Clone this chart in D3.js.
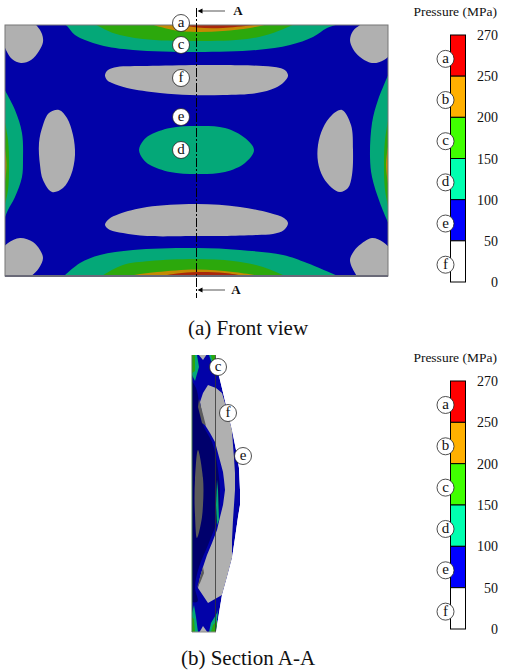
<!DOCTYPE html>
<html>
<head>
<meta charset="utf-8">
<script src="https://cdn.jsdelivr.net/npm/d3@7"></script>
<style>
html,body{margin:0;padding:0;background:#fff;}
text{font-family:"Liberation Serif",serif;fill:#111;}
.red{fill:#a8280c;} .orange{fill:#c48a04;} .green{fill:#2ca80c;} .teal{fill:#04a878;}
.blue{fill:#0202a8;} .navy{fill:#00006c;} .gray{fill:#b0b0b0;} .dark{fill:#5c5c5c;}
</style>
</head>
<body>
<div id="chart"></div>
<script>
// legend
var tickLabels = ["270","250","200","150","100","50","0"];
var legendLetters = ["a","b","c","d","e","f"];
var legendColors = ["#ff0000","#ffb000","#40ff00","#00ffb0","#0000ff","#ffffff"];

// front view contours, plate units (383 x 251)
var cornerTL = [[-6,-6],[24,-6],[32,1],[37,9],[38,17],[34,26],[26,35],[16,38],[7,34],[1,25],[-4,10]];
var cornerTR = [[345,15],[348,6],[355,0],[365,-6],[390,-6],[390,22],[379,35],[367,38],[355,32],[348,24]];
var cornerBL = [[-5,228],[3,218],[15,213],[28,217],[35,225],[38,233],[34,243],[25,252],[15,258],[-6,258]];
var cornerBR = [[345,235],[349,226],[356,219],[367,213],[378,217],[386,225],[392,240],[390,258],[358,258],[350,248]];
// bands along the edges: open boundary, closed straight outside the plate
var topTeal = [[57,-2],[62,1],[70,10],[95,20],[128,25],[192,27],[252,25],[285,20],[308,12],[322,3],[338,-2]];
var topGreen = [[88,-2],[108,8],[138,14],[192,16],[242,14],[268,8],[292,-2]];
var topOrange = [[142,-2],[168,5],[192,7],[218,6],[245,3],[268,-2]];
var topRed = [[168,-2],[192,2.5],[218,3],[265,-2]];
var bottomTeal = [[58,252],[75,238],[95,230],[128,225],[192,223],[235,225],[278,230],[302,238],[335,252]];
var bottomGreen = [[95,252],[118,240],[145,236],[192,234],[228,236],[258,242],[282,252]];
var bottomOrange = [[117,252],[135,249],[152,247],[192,244.5],[228,247],[263,252]];
var bottomRed = [[152,252],[172,248.5],[192,247],[220,248],[245,252]];
var leftTeal = [[-2,62],[10,85],[17,108],[18,135],[17,152],[10,172],[3,185],[-2,197]];
var leftGreen = [[-2,88],[3,115],[4,140],[3,165],[-2,187]];
var leftOrange = [[-2,110],[1.5,140],[-2,170]];
var rightTeal = [[385,46],[373,75],[367,98],[365,132],[367,152],[375,178],[385,202]];
var rightGreen = [[385,85],[380,115],[379,140],[380,165],[385,190]];
var rightOrange = [[385,110],[381,140],[385,170]];
// closed blobs
var topGray = [[100,50],[103,45],[112,42],[142,41],[192,40],[218,40],[258,41],[275,43],[281,46],[283,51],[279,57],[270,63],[252,68],[218,70],[185,70],[155,68],[122,63],[107,58],[102,55]];
var bottomGray = [[100,200],[104,194],[114,189],[142,182],[192,179],[235,182],[265,188],[279,193],[283,198],[279,205],[268,209],[252,210],[218,211],[192,211],[142,211],[118,208],[105,205]];
var leftGray = [[54,85],[44,88],[38,100],[34,118],[35,140],[38,155],[47,167],[58,163],[66,150],[70,130],[68,110],[62,93]];
var rightGray = [[337,85],[327,90],[318,103],[313,120],[313,137],[318,152],[327,163],[335,167],[343,163],[347,150],[348,125],[346,100]];
var centerTeal = [[134,125],[138,116],[145,110],[165,103],[192,101],[220,103],[240,113],[249,125],[240,138],[220,147],[192,149],[165,147],[145,140],[138,134]];

// section view contours, section units (width 23 at the flange, height 277)
var sectionBody = [[0,0],[23,0],[25,13],[28,25],[34,50],[40,75],[44,95],[47,113],[48,135],[48,150],[46,162],[43,183],[40,203],[35,222],[30,240],[27,258],[24,277],[0,277]];
var sectionNavy = [[-3,22],[4,33],[7,47],[11,70],[20,87],[26,115],[28,135],[26,162],[16,190],[7,212],[3,233],[5,247],[-3,247]];
var sectionGray = [[16,30],[24,33],[30,38],[35,55],[40,75],[41,90],[42,103],[43,118],[43,135],[42,150],[41,165],[40,185],[40,203],[35,222],[30,240],[16,248],[6,233],[8,222],[11,212],[15,200],[20,188],[25,175],[28,162],[31,150],[33,135],[32,125],[31,117],[27,102],[23,87],[18,78],[13,70],[10,58],[8,47],[11,38]];
var sectionSlot = [[6,95],[11,123],[11,150],[10,162],[5,183],[3,160],[3,125]];
var sectionSlivers = [[[7,44],[14,71],[10,68],[6,52]],[[5,233],[11,212],[12,218],[8,228]]];
var sectionTeals = [
  [[0,0],[5,0],[7,12],[3,26],[0,20]],
  [[17,0],[23,0],[25,13],[27,22],[22,15]],
  [[0,277],[6,277],[4,262],[2,250],[0,258]],
  [[17,277],[24,277],[26,255],[25,258],[19,268]],
  [[25,125],[26,135],[27,165],[25,170],[24,150]]
];
var sectionGreens = [
  [[0,0],[3,0],[3,16],[0,18]],
  [[19,0],[23,0],[24,10],[21,8]],
  [[0,277],[3,277],[2,264],[0,262]],
  [[19,277],[24,277],[25,266],[21,270]]
];
var sectionTopNotch = [[6,-1],[15,-1],[11,5]];
var sectionBottomNotch = [[7,278],[16,278],[11,271]];

// callouts: letter, plate/section position
var frontCallouts = [["a",176,-2],["c",176,20],["f",176,53],["e",176,92],["d",176,125]];
var sectionCallouts = [["c",26,12],["f",36,58],["e",51,101]];

var width = 506, height = 672;
var svg = d3.select("#chart").append("svg").attr("width",width).attr("height",height).style("display","block");

// front view
var fx = d3.scaleLinear().domain([0,383]).range([5,388]);
var fy = d3.scaleLinear().domain([0,251]).range([25,276]);
var frontBlob = d3.line().x(function(d){return fx(d[0]);}).y(function(d){return fy(d[1]);}).curve(d3.curveCatmullRomClosed.alpha(0.5));
var frontBand = d3.line().x(function(d){return fx(d[0]);}).y(function(d){return fy(d[1]);}).curve(d3.curveCatmullRom.alpha(0.5));

svg.append("clipPath").attr("id","plateClip").append("rect")
  .attr("x",fx(0)).attr("y",fy(0)).attr("width",fx(383)-fx(0)).attr("height",fy(251)-fy(0));

var plate = svg.append("g").attr("clip-path","url(#plateClip)");
plate.append("rect").attr("class","blue")
  .attr("x",fx(0)).attr("y",fy(0)).attr("width",fx(383)-fx(0)).attr("height",fy(251)-fy(0));

var frontBands = [
  [topTeal,"teal"],[topGreen,"green"],[topOrange,"orange"],[topRed,"red"],
  [bottomTeal,"teal"],[bottomGreen,"green"],[bottomOrange,"orange"],[bottomRed,"red"],
  [leftTeal,"teal"],[leftGreen,"green"],[leftOrange,"orange"],
  [rightTeal,"teal"],[rightGreen,"green"],[rightOrange,"orange"]
];
var frontBlobs = [
  [cornerTL,"gray"],[cornerTR,"gray"],[cornerBL,"gray"],[cornerBR,"gray"],
  [topGray,"gray"],[bottomGray,"gray"],[leftGray,"gray"],[rightGray,"gray"],[centerTeal,"teal"]
];
plate.selectAll("path.band").data(frontBands).enter().append("path")
  .attr("class",function(d){return "band "+d[1];})
  .attr("d",function(d){return frontBand(d[0])+"Z";});
plate.selectAll("path.blob").data(frontBlobs).enter().append("path")
  .attr("class",function(d){return "blob "+d[1];})
  .attr("d",function(d){return frontBlob(d[0]);});

svg.append("rect").attr("x",fx(0)).attr("y",fy(0)).attr("width",fx(383)-fx(0)).attr("height",fy(251)-fy(0))
  .attr("fill","none").attr("stroke","#777").attr("stroke-width",1);
svg.append("line").attr("x1",fx(0)).attr("x2",fx(383)).attr("y1",fy(251)).attr("y2",fy(251))
  .attr("stroke","#6a6a78").attr("stroke-width",2);

// section line A-A
svg.append("line").attr("x1",fx(191.5)).attr("x2",fx(191.5)).attr("y1",8).attr("y2",298)
  .attr("stroke","#000").attr("stroke-width",1).attr("stroke-dasharray","9 2 2 2");

[[11,238],[290,236]].forEach(function(a){
  svg.append("line").attr("x1",fx(191.5)+3).attr("x2",225).attr("y1",a[0]).attr("y2",a[0])
    .attr("stroke","#aaa").attr("stroke-width",2);
  svg.append("path").attr("d","M"+(fx(191.5)+1)+","+a[0]+"l5,-2.5v5z").attr("fill","#000");
  svg.append("text").attr("x",a[1]).attr("y",a[0]+4).attr("text-anchor","middle")
    .attr("font-size",13).attr("font-weight","bold").text("A");
});

// section view
var sx = d3.scaleLinear().domain([0,23]).range([192,215]);
var sy = d3.scaleLinear().domain([0,277]).range([355,632]);
var sectionPoly = d3.line().x(function(d){return sx(d[0]);}).y(function(d){return sy(d[1]);}).curve(d3.curveLinearClosed);
var sectionSmooth = d3.line().x(function(d){return sx(d[0]);}).y(function(d){return sy(d[1]);}).curve(d3.curveCatmullRomClosed.alpha(1));

svg.append("clipPath").attr("id","sectionClip").append("path").attr("d",sectionPoly(sectionBody));

var section = svg.append("g").attr("clip-path","url(#sectionClip)");
section.append("path").attr("class","blue").attr("d",sectionPoly(sectionBody));
section.append("path").attr("class","navy").attr("d",sectionSmooth(sectionNavy));
section.append("path").attr("class","gray").attr("d",sectionPoly(sectionGray));
section.append("path").attr("class","dark").attr("d",sectionSmooth(sectionSlot));
sectionSlivers.forEach(function(s){
  section.append("path").attr("class","dark").attr("d",sectionPoly(s));
});
section.selectAll("path.edge").data(sectionTeals).enter().append("path")
  .attr("class","edge teal").attr("d",function(d){return sectionPoly(d);});
section.selectAll("path.edgeGreen").data(sectionGreens).enter().append("path")
  .attr("class","edgeGreen green").attr("d",function(d){return sectionPoly(d);});
section.append("path").attr("class","gray").attr("d",sectionPoly(sectionTopNotch));
section.append("path").attr("class","gray").attr("d",sectionPoly(sectionBottomNotch));

svg.append("line").attr("x1",sx(23)+0.5).attr("x2",sx(23)+0.5).attr("y1",sy(0)).attr("y2",sy(277))
  .attr("stroke","#333").attr("stroke-width",0.8);
svg.append("line").attr("x1",sx(0)).attr("x2",sx(24)).attr("y1",sy(277)).attr("y2",sy(277))
  .attr("stroke","#888").attr("stroke-width",1);
svg.append("line").attr("x1",sx(0)).attr("x2",sx(0)).attr("y1",sy(0)).attr("y2",sy(277))
  .attr("stroke","#4a7a50").attr("stroke-width",1);

function callout(parent,x,y,letter){
  var g = parent.append("g").attr("transform","translate("+x+","+y+")");
  g.append("circle").attr("r",8.5).attr("fill","#fff").attr("stroke","#222").attr("stroke-width",0.8);
  g.append("text").attr("text-anchor","middle").attr("y",4).attr("font-size",15).text(letter);
}
frontCallouts.forEach(function(c){ callout(svg,fx(c[1]),fy(c[2]),c[0]); });
sectionCallouts.forEach(function(c){ callout(svg,sx(c[1]),sy(c[2]),c[0]); });

// pressure legends, the bands are equal height whatever the range they cover
function legend(top,bottom,titleY){
  var y = d3.scalePoint().domain(tickLabels).range([top,bottom]);
  var g = svg.append("g");
  g.append("text").attr("x",497).attr("y",titleY).attr("text-anchor","end").attr("font-size",13.5).text("Pressure (MPa)");
  var step = y.step();
  g.selectAll("rect").data(legendColors).enter().append("rect")
    .attr("x",450.5).attr("width",15)
    .attr("y",function(d,i){return y(tickLabels[i]);})
    .attr("height",step)
    .attr("fill",function(d){return d;})
    .attr("stroke","#000").attr("stroke-width",1);
  g.selectAll("text.tick").data(tickLabels).enter().append("text").attr("class","tick")
    .attr("x",498).attr("text-anchor","end").attr("font-size",14)
    .attr("y",function(d){return y(d)+5;})
    .text(function(d){return d;});
  legendLetters.forEach(function(l,i){
    callout(g,445.5,y(tickLabels[i])+step*0.58,l);
  });
}
legend(35,282,16);
legend(381,629,362);

// captions
svg.append("text").attr("x",248).attr("y",335).attr("text-anchor","middle").attr("font-size",21).text("(a) Front view");
svg.append("text").attr("x",248).attr("y",665).attr("text-anchor","middle").attr("font-size",21).text("(b) Section A-A");
</script>
</body>
</html>
